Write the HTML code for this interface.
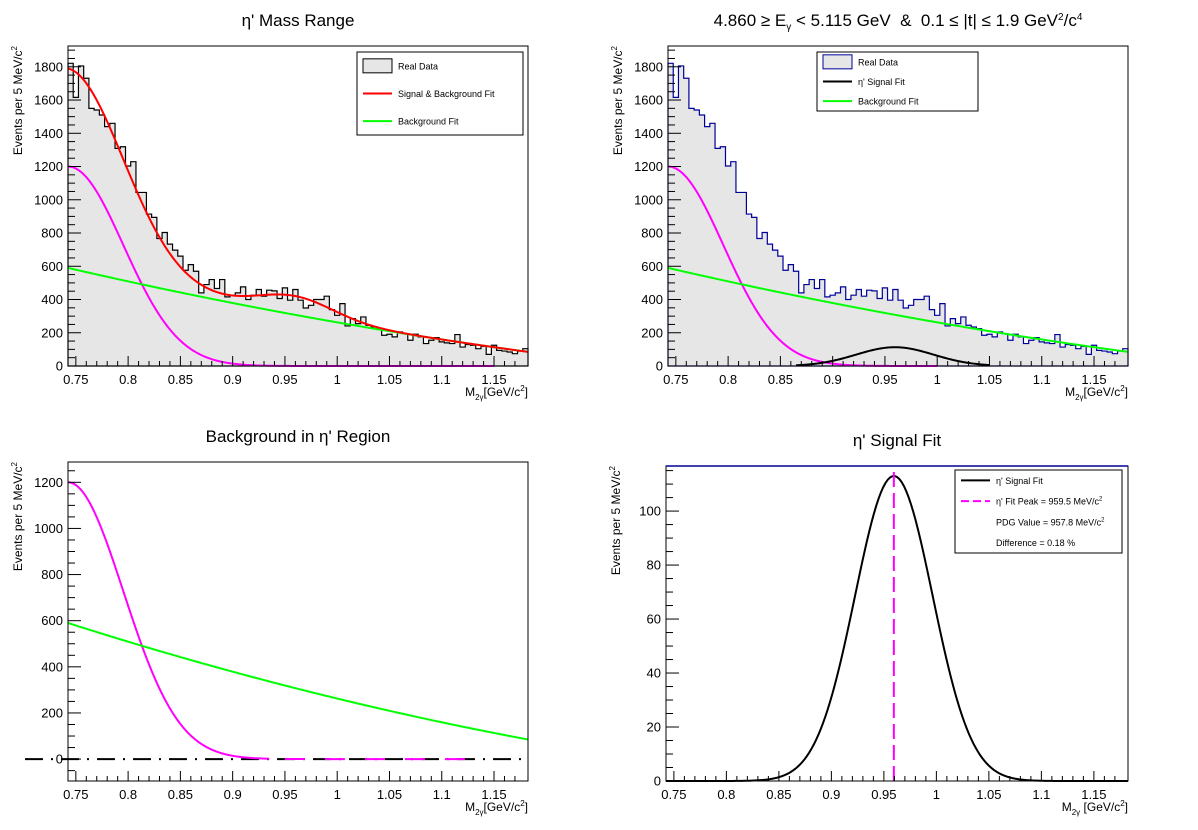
<!DOCTYPE html>
<html><head><meta charset="utf-8">
<style>
html,body{margin:0;padding:0;background:#fff;}
svg{display:block;font-family:"Liberation Sans",sans-serif;}
</style></head>
<body>
<svg id="c" width="1198" height="830" viewBox="0 0 1198 830" xmlns="http://www.w3.org/2000/svg"></svg>
<script>
// ---- data ----
const binLow = 0.7425;
const binWidth = 0.005;
const counts = [1821,1616,1805,1731,1550,1540,1510,1440,1460,1309,1319,1203,1229,1044,1044,914,894,767,803,733,697,661,576,610,570,440,490,520,466,520,416,426,440,476,400,426,460,420,456,452,406,470,396,460,396,349,365,400,400,420,339,305,375,241,285,255,295,245,235,225,185,191,175,205,195,155,191,175,135,155,171,145,139,135,189,114,129,125,104,118,70,125,94,90,84,74,90,104];
const bgPoly = [590,-1447,680];          // background fit: a + b t + c t^2, t = x - binLow
const peakingBg = [1200,0.7425,0.0529];  // amplitude, mean, sigma
const signalFit = [113,0.9595,0.037];    // amplitude, mean, sigma
const xTicks = [0.75,0.8,0.85,0.9,0.95,1,1.05,1.1,1.15];
const xTickLabels = ["0.75","0.8","0.85","0.9","0.95","1","1.05","1.1","1.15"];
const yTicksTop = [0,200,400,600,800,1000,1200,1400,1600,1800];
const yTicksBL = [0,200,400,600,800,1000,1200];
const yTicksBR = [0,20,40,60,80,100];

const NS="http://www.w3.org/2000/svg";
const svg=document.getElementById('c');
function mk(tag,attrs,parent){const e=document.createElementNS(NS,tag);for(const k in attrs)e.setAttribute(k,attrs[k]);(parent||svg).appendChild(e);return e;}
const bg=x=>{const t=x-binLow;return bgPoly[0]+bgPoly[1]*t+bgPoly[2]*t*t;};
const pk=x=>peakingBg[0]*Math.exp(-Math.pow(x-peakingBg[1],2)/(2*peakingBg[2]*peakingBg[2]));
const sg=x=>signalFit[0]*Math.exp(-Math.pow(x-signalFit[1],2)/(2*signalFit[2]*signalFit[2]));

function panel(p){
  const xmin=binLow,xmax=binLow+counts.length*binWidth;
  p.X=x=>p.x0+(x-xmin)/(xmax-xmin)*(p.x1-p.x0);
  p.Y=y=>p.y1-(y-p.ymin)/(p.ymax-p.ymin)*(p.y1-p.y0);
  const g=mk('g',{});
  
  
  p.g=g;
  return p;
}
function frame(p,topColor){
  mk('rect',{x:p.x0,y:p.y0,width:p.x1-p.x0,height:p.y1-p.y0,fill:'none',stroke:'#000','stroke-width':1},p.g);
  if(topColor) mk('line',{x1:p.x0,y1:p.y0,x2:p.x1,y2:p.y0,stroke:topColor,'stroke-width':1.5},p.g);
}
function axes(p,yTicks,yMinor,title,ytitle,xtitle){
  const ax=mk('g',{},p.g);
  
  
  for(let v=0.75;v<=1.18;v+=0.01){
    const x=p.X(v); const major=Math.abs((v*100)%5)<0.01||Math.abs((v*100)%5-5)<0.01;
    mk('line',{x1:x,y1:p.y1,x2:x,y2:p.y1-(major?10:5),stroke:'#000','stroke-width':1},ax);
  }
  xTicks.forEach((v,i)=>{const t=mk('text',{x:p.X(v),y:p.y1+18,'font-size':13,'text-anchor':'middle'},ax);t.textContent=xTickLabels[i];});
  const ay=mk('g',{},p.g);
  
  
  for(let v=Math.ceil(p.ymin/yMinor)*yMinor;v<=p.ymax;v+=yMinor){
    const y=p.Y(v);const major=yTicks.includes(v);
    mk('line',{x1:p.x0,y1:y,x2:p.x0+(major?13:7),y2:y,stroke:'#000','stroke-width':1},ay);
  }
  yTicks.forEach(v=>{const t=mk('text',{x:p.x0-5,y:p.Y(v)+4.5,'font-size':13,'text-anchor':'end'},ay);t.textContent=v;});
  const tt=mk('text',{x:(p.x0+p.x1)/2,y:p.y0-20,'font-size':17,'text-anchor':'middle'},p.g);
  
  
  tt.innerHTML=title;
  const yt=mk('text',{x:0,y:0,'font-size':12,'text-anchor':'end',transform:`translate(${p.x0-46},${p.y0}) rotate(-90)`},p.g);
  
  
  yt.innerHTML=ytitle;
  const xt=mk('text',{x:p.x1,y:p.y1+30,'font-size':12,'text-anchor':'end'},p.g);
  
  
  xt.innerHTML=xtitle;
}
function hist(p,stroke){
  let d=`M${p.X(binLow)},${p.Y(0)}`;
  counts.forEach((c,i)=>{const a=p.X(binLow+i*binWidth),b=p.X(binLow+(i+1)*binWidth);d+=` L${a},${p.Y(c)} L${b},${p.Y(c)}`;});
  d+=` L${p.X(binLow+counts.length*binWidth)},${p.Y(0)} Z`;
  const h=mk('path',{d:d,fill:'#e6e6e6',stroke:stroke,'stroke-width':1.2},p.g);
  
  
}
function curve(p,f,a,b,color,name,dash){
  let d='';const n=200;
  for(let i=0;i<=n;i++){const x=a+(b-a)*i/n;d+=(i?' L':'M')+p.X(x).toFixed(2)+','+p.Y(Math.max(p.ymin,f(x))).toFixed(2);}
  const e=mk('path',{d:d,fill:'none',stroke:color,'stroke-width':2},p.g);
  if(dash)e.setAttribute('stroke-dasharray',dash);
  
  
}
function legend(p,x,y,w,h,entries,fs){
  const lg=mk('g',{},p.g);
  
  
  mk('rect',{x:x,y:y,width:w,height:h,fill:'#fff',stroke:'#000','stroke-width':1},lg);
  const step=h/entries.length;
  entries.forEach((en,i)=>{
    const cy=y+step*(i+0.5);
    const eg=mk('g',{},lg);
    
    
    if(en.box) mk('rect',{x:x+6,y:cy-7,width:29,height:14,fill:'#e6e6e6',stroke:en.box,'stroke-width':1},eg);
    if(en.line){const l=mk('line',{x1:x+6,y1:cy,x2:x+35,y2:cy,stroke:en.line,'stroke-width':2},eg);if(en.dash)l.setAttribute('stroke-dasharray',en.dash);}
    const t=mk('text',{x:x+41,y:cy+3.5,'font-size':fs},eg);t.innerHTML=en.t;
  });
}
const YT='Events per 5 MeV/c<tspan dy="-5" font-size="8">2</tspan>';
const XT='M<tspan dy="4" font-size="8">2γ</tspan><tspan dy="-4">[GeV/c</tspan><tspan dy="-5" font-size="8">2</tspan><tspan dy="5">]</tspan>';
const XT2='M<tspan dy="4" font-size="8">2γ</tspan><tspan dy="-4"> [GeV/c</tspan><tspan dy="-5" font-size="8">2</tspan><tspan dy="5">]</tspan>';
const xEnd=binLow+counts.length*binWidth;

// top-left
let p1=panel({name:'mass-range-panel',x0:68,x1:528,y0:46,y1:366,ymin:0,ymax:1925});
hist(p1,'#000');
curve(p1,pk,binLow,1.15,'#ff00ff','peaking-background-curve');
curve(p1,bg,binLow,xEnd,'#00ff00','background-fit-curve');
curve(p1,x=>bg(x)+pk(x)+sg(x),binLow,xEnd,'#ff0000','signal-background-fit-curve');
frame(p1);
axes(p1,yTicksTop,50,"η' Mass Range",YT,XT);
legend(p1,357,52,166,83,[{box:'#000',t:'Real Data'},{line:'#ff0000',t:'Signal &amp; Background Fit'},{line:'#00ff00',t:'Background Fit'}],9);

// top-right
let p2=panel({name:'energy-t-bin-panel',x0:668,x1:1128,y0:46,y1:366,ymin:0,ymax:1925});
hist(p2,'#000099');
curve(p2,pk,binLow,1.0,'#ff00ff','peaking-background-curve');
curve(p2,sg,0.865,1.05,'#000','signal-fit-curve');
curve(p2,bg,binLow,xEnd,'#00ff00','background-fit-curve');
frame(p2);
axes(p2,yTicksTop,50,'4.860 ≥ E<tspan dy="4" font-size="10">γ</tspan><tspan dy="-4"> &lt; 5.115 GeV&#160;&#160;&amp;&#160;&#160;0.1 ≤ |t| ≤ 1.9 GeV</tspan><tspan dy="-6" font-size="10">2</tspan><tspan dy="6">/c</tspan><tspan dy="-6" font-size="10">4</tspan>',YT,XT);
legend(p2,817,52,161,59,[{box:'#000099',t:'Real Data'},{line:'#000',t:"η' Signal Fit"},{line:'#00ff00',t:'Background Fit'}],9);

// bottom-left
let p3=panel({name:'background-panel',x0:68,x1:528,y0:462,y1:781,ymin:-95,ymax:1288});
const zl=mk('line',{x1:25,y1:p3.Y(0),x2:528,y2:p3.Y(0),stroke:'#000','stroke-width':2,'stroke-dasharray':'18,8,2,8'},p3.g);


curve(p3,pk,binLow,0.935,'#ff00ff','peaking-background-curve');
curve(p3,pk,0.95,1.135,'#ff00ff','peaking-background-tail','20,20');
curve(p3,bg,binLow,xEnd,'#00ff00','background-fit-curve');
frame(p3);
axes(p3,yTicksBL,50,"Background in η' Region",YT,XT);

// bottom-right
let p4=panel({name:'signal-fit-panel',x0:666,x1:1128,y0:466,y1:781,ymin:0,ymax:116.7});
curve(p4,sg,binLow,xEnd,'#000','signal-fit-curve');
const vl=mk('line',{x1:p4.X(signalFit[1]),y1:p4.Y(0),x2:p4.X(signalFit[1]),y2:p4.y0+5,stroke:'#ff00ff','stroke-width':2,'stroke-dasharray':'15,6'},p4.g);


frame(p4,'#000099');
axes(p4,yTicksBR,5,"η' Signal Fit",YT,XT2);
legend(p4,955,470,167,83,[{line:'#000',t:"η' Signal Fit"},{line:'#ff00ff',dash:'8,4',t:'η\' Fit Peak = 959.5 MeV/c<tspan dy="-4" font-size="6">2</tspan>'},{t:'PDG Value = 957.8 MeV/c<tspan dy="-4" font-size="6">2</tspan>'},{t:'Difference = 0.18 %'}],9);
</script>
</body></html>
